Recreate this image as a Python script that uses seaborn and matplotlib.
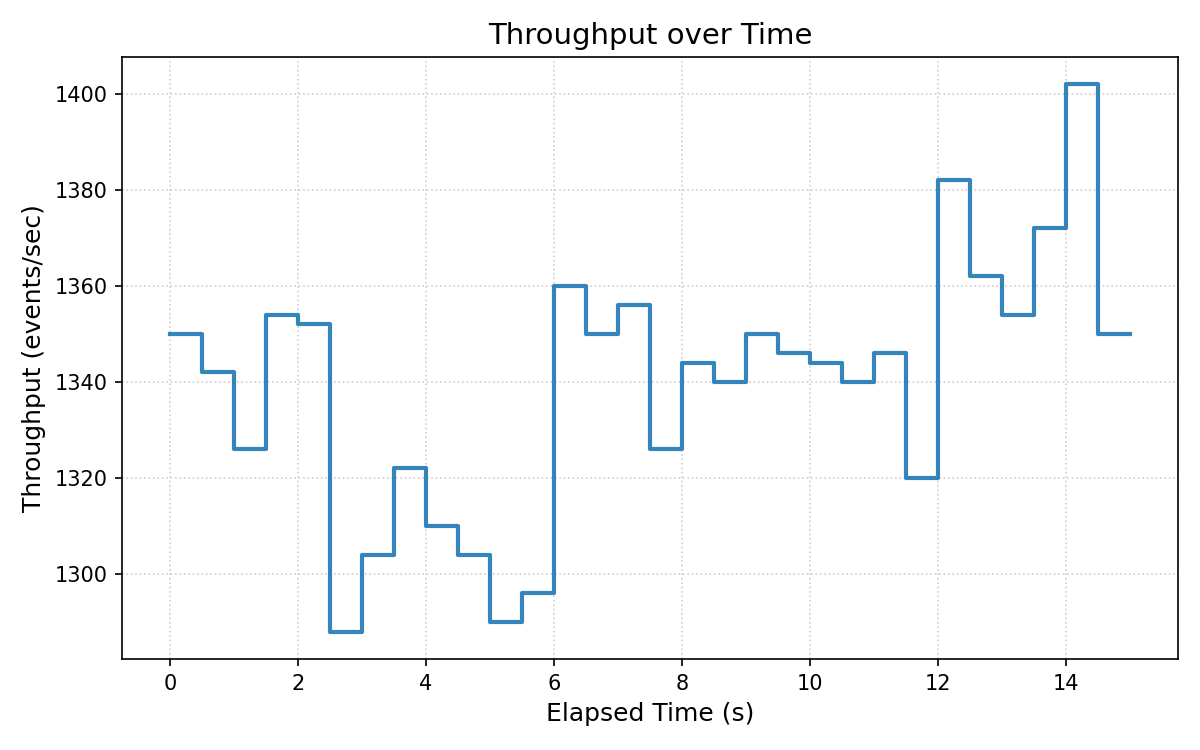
import numpy as np
import pandas as pd
import matplotlib
matplotlib.use("Agg")
import matplotlib.pyplot as plt
import seaborn as sns

# elapsed time (s) and throughput (events/sec), step changes every 0.5 s
elapsed = [0.0, 0.5, 1.0, 1.5, 2.0, 2.5, 3.0, 3.5, 4.0, 4.5, 5.0, 5.5,
           6.0, 6.5, 7.0, 7.5, 8.0, 8.5, 9.0, 9.5, 10.0, 10.5, 11.0, 11.5,
           12.0, 12.5, 13.0, 13.5, 14.0, 14.5, 15.0]
throughput = [1350, 1342, 1326, 1354, 1352, 1288, 1304, 1322, 1310, 1304, 1290, 1296,
              1360, 1350, 1356, 1326, 1344, 1340, 1350, 1346, 1344, 1340, 1346, 1320,
              1382, 1362, 1354, 1372, 1402, 1350, 1350]

df = pd.DataFrame({"t": elapsed, "tp": throughput})

plt.rcParams["font.family"] = ["DejaVu Sans"]

fig, ax = plt.subplots(figsize=(8, 5), dpi=150)
sns.lineplot(data=df, x="t", y="tp", drawstyle="steps-post",
             color="tab:blue", alpha=0.9, linewidth=2, ax=ax)

ax.set_title("Throughput over Time", fontsize=14)
ax.set_xlabel("Elapsed Time (s)", fontsize=12)
ax.set_ylabel("Throughput (events/sec)", fontsize=12)
ax.grid(True, linestyle=":", color="#b0b0b0", alpha=0.6)

plt.subplots_adjust(left=0.1017, right=0.9817, top=0.924, bottom=0.1213)
plt.savefig("out.png", dpi=150)
